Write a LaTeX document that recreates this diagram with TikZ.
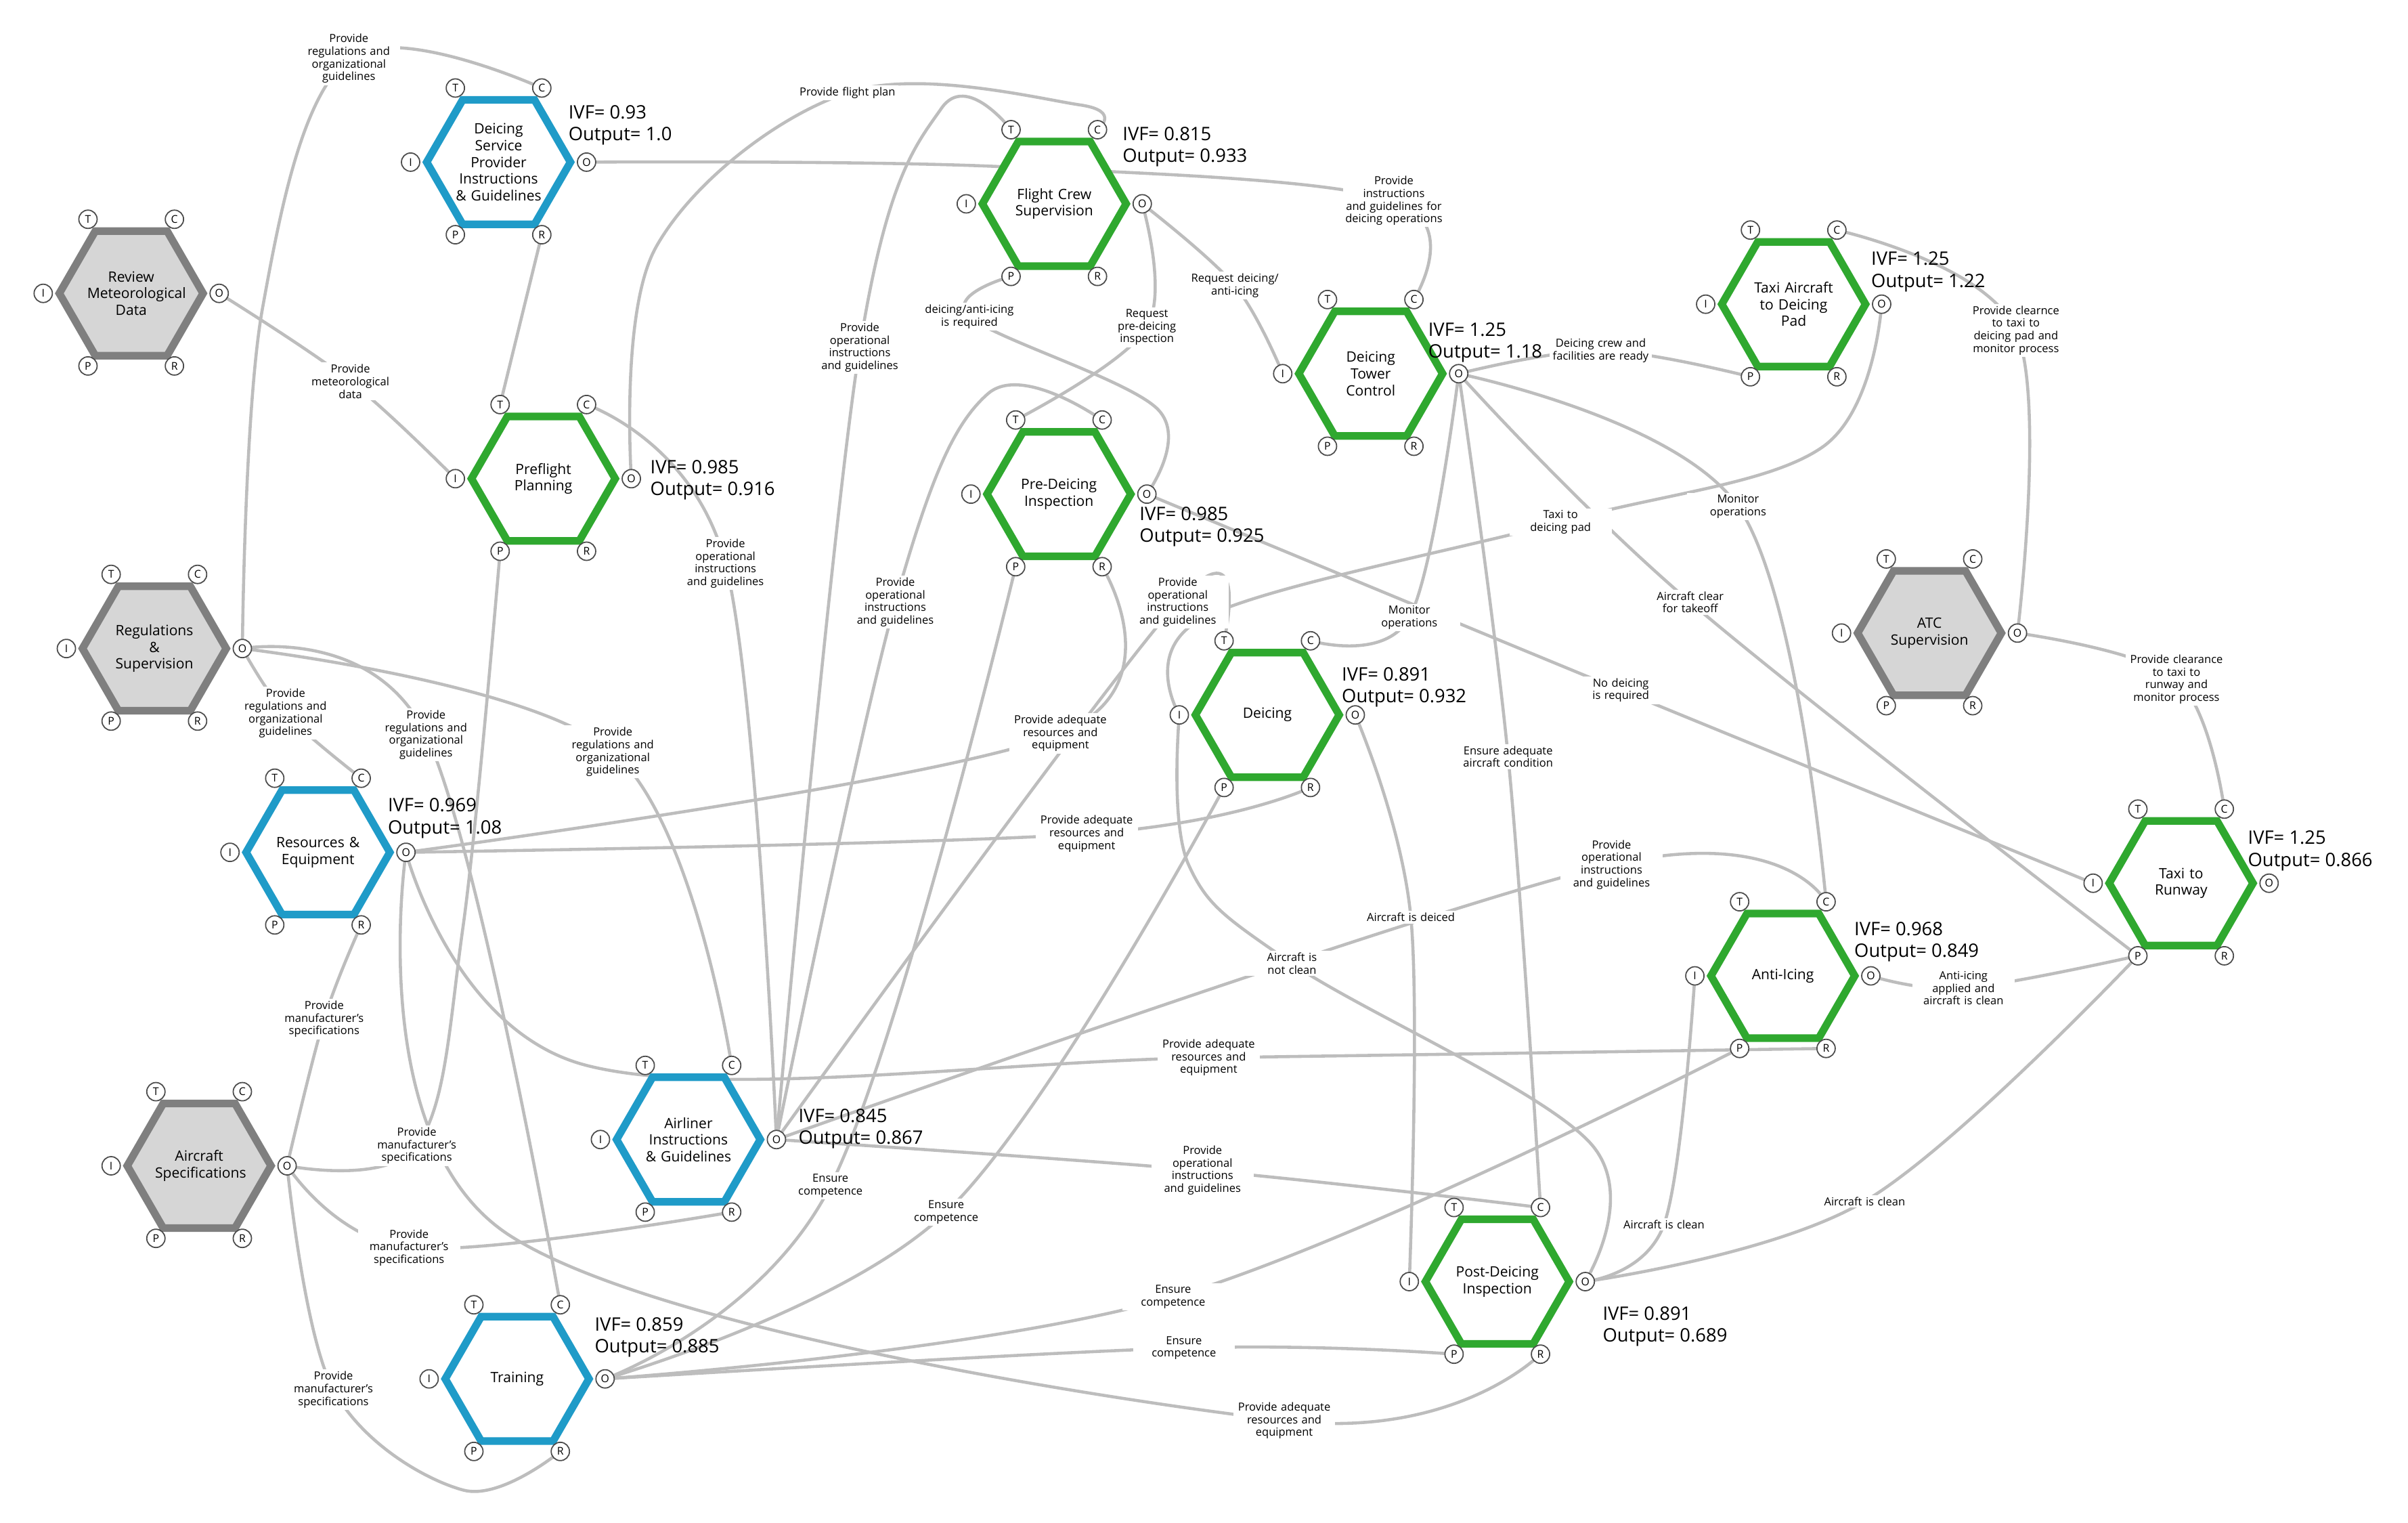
\documentclass[tikz,border=0pt]{standalone}
\usepackage{fontspec}
\setmainfont{Open Sans}
\usetikzlibrary{shapes.geometric, calc, backgrounds}
\definecolor{fgray}{HTML}{7F7F7F}
\definecolor{fgrayfill}{HTML}{D6D6D6}
\definecolor{fblue}{HTML}{1F9BC8}
\definecolor{fgreen}{HTML}{2FA82F}
\definecolor{flowgray}{HTML}{BDBDBD}

% one function: hexagon plus its six aspects
\newcommand{\fram}[5]{%
  \node[hex, #4] (#1) at (#2,#3) {#5};
  \node[asp] (#1-T) at ($(#1)+(-28,-48)$) {T};
  \node[asp] (#1-C) at ($(#1)+(28,-48)$) {C};
  \node[asp] (#1-I) at ($(#1)+(-57,0)$) {I};
  \node[asp] (#1-O) at ($(#1)+(57,0)$) {O};
  \node[asp] (#1-P) at ($(#1)+(-28,47)$) {P};
  \node[asp] (#1-R) at ($(#1)+(28,47)$) {R};
}
\newcommand{\flow}[1]{\draw[flow] plot[smooth, tension=0.6] coordinates {#1};}

\begin{document}
\hyphenpenalty=10000 \exhyphenpenalty=10000
\begin{tikzpicture}[x=0.0228cm, y=-0.0228cm,
  hex/.style={regular polygon, regular polygon sides=6, minimum size=1.98cm, inner sep=0pt, line width=3.2pt, fill=white, align=center, text width=1.3cm, font=\fontsize{6}{7}\selectfont},
  gfun/.style={draw=fgray, fill=fgrayfill},
  bfun/.style={draw=fblue},
  nfun/.style={draw=fgreen},
  asp/.style={circle, draw=black!70, fill=white, line width=0.5pt, minimum size=0.27cm, inner sep=0pt, font=\fontsize{4.5}{5}\selectfont},
  lbl/.style={fill=white, inner sep=0.8pt, align=center, text width=1.45cm, font=\fontsize{4.7}{5.3}\selectfont},
  ivf/.style={anchor=west, align=left, inner sep=0pt, font=\fontsize{7.8}{9.2}\selectfont},
  flow/.style={draw=flowgray, line width=1.3pt}
]
  \useasboundingbox (0,0) rectangle (1560,986);

  % Functions
  \fram{rev}{85}{190}{gfun}{Review Meteorological Data}
  \fram{dsp}{323}{105}{bfun}{Deicing Service Provider Instructions \& Guidelines}
  \fram{pfp}{352}{310}{nfun}{Preflight Planning}
  \fram{reg}{100}{420}{gfun}{Regulations \& Supervision}
  \fram{res}{206}{552}{bfun}{Resources \& Equipment}
  \fram{acs}{129}{755}{gfun}{Aircraft Specifications}
  \fram{air}{446}{738}{bfun}{Airliner Instructions \& Guidelines}
  \fram{trn}{335}{893}{bfun}{Training}
  \fram{fcs}{683}{132}{nfun}{Flight Crew Supervision}
  \fram{pdi}{686}{320}{nfun}{Pre-Deicing Inspection}
  \fram{dtc}{888}{242}{nfun}{Deicing Tower Control}
  \fram{dei}{821}{463}{nfun}{Deicing}
  \fram{tad}{1162}{197}{nfun}{Taxi Aircraft to Deicing Pad}
  \fram{atc}{1250}{410}{gfun}{ATC Supervision}
  \fram{ttr}{1413}{572}{nfun}{Taxi to Runway}
  \fram{ant}{1155}{632}{nfun}{Anti-Icing}
  \fram{pos}{970}{830}{nfun}{Post-Deicing Inspection}

  % IVF values
  \node[ivf] (v-dsp) at (368,81) {IVF= 0.93\\Output= 1.0};
  \node[ivf] (v-pfp) at (421,311) {IVF= 0.985\\Output= 0.916};
  \node[ivf] (v-fcs) at (727,95) {IVF= 0.815\\Output= 0.933};
  \node[ivf] (v-dtc) at (925,222) {IVF= 1.25\\Output= 1.18};
  \node[ivf] (v-tad) at (1212,176) {IVF= 1.25\\Output= 1.22};
  \node[ivf] (v-res) at (251,530) {IVF= 0.969\\Output= 1.08};
  \node[ivf] (v-air) at (517,731) {IVF= 0.845\\Output= 0.867};
  \node[ivf] (v-trn) at (385,866) {IVF= 0.859\\Output= 0.885};
  \node[ivf] (v-pdi) at (738,341) {IVF= 0.985\\Output= 0.925};
  \node[ivf] (v-dei) at (869,445) {IVF= 0.891\\Output= 0.932};
  \node[ivf] (v-ttr) at (1456,551) {IVF= 1.25\\Output= 0.866};
  \node[ivf] (v-ant) at (1201,610) {IVF= 0.968\\Output= 0.849};
  \node[ivf] (v-pos) at (1038,859) {IVF= 0.891\\Output= 0.689};

  % Couplings labels
  \node[lbl] (l1) at (227,247) {Provide meteorological data};
  \node[lbl] (l2) at (226,38) {Provide regulations and organizational guidelines};
  \node[lbl] (l3) at (903,130) {Provide instructions and guidelines for deicing operations};
  \node[lbl] (l4) at (549,60) {Provide flight plan};
  \node[lbl] (l5) at (470,365) {Provide operational instructions and guidelines};
  \node[lbl] (l6) at (557,225) {Provide operational instructions and guidelines};
  \node[lbl] (l7) at (580,390) {Provide operational instructions and guidelines};
  \node[lbl] (l8) at (763,390) {Provide operational instructions and guidelines};
  \node[lbl] (l9) at (1044,560) {Provide operational instructions and guidelines};
  \node[lbl] (l10) at (779,758) {Provide operational instructions and guidelines};
  \node[lbl] (l11) at (185,462) {Provide regulations and organizational guidelines};
  \node[lbl] (l12) at (276,476) {Provide regulations and organizational guidelines};
  \node[lbl] (l13) at (397,487) {Provide regulations and organizational guidelines};
  \node[lbl] (l14) at (687,475) {Provide adequate resources and equipment};
  \node[lbl] (l15) at (704,540) {Provide adequate resources and equipment};
  \node[lbl] (l16) at (783,685) {Provide adequate resources and equipment};
  \node[lbl] (l17) at (832,920) {Provide adequate resources and equipment};
  \node[lbl] (l18) at (210,660) {Provide manufacturer's specifications};
  \node[lbl] (l19) at (270,742) {Provide manufacturer's specifications};
  \node[lbl] (l20) at (265,808) {Provide manufacturer's specifications};
  \node[lbl] (l21) at (216,900) {Provide manufacturer's specifications};
  \node[lbl] (l22) at (538,768) {Ensure competence};
  \node[lbl] (l23) at (613,785) {Ensure competence};
  \node[lbl] (l24) at (760,840) {Ensure competence};
  \node[lbl] (l25) at (767,873) {Ensure competence};
  \node[lbl] (l26) at (743,212) {Request pre-deicing inspection};
  \node[lbl] (l27) at (628,205) {deicing/anti-icing is required};
  \node[lbl] (l28) at (800,185) {Request deicing/ anti-icing};
  \node[lbl] (l29) at (1037,227) {Deicing crew and facilities are ready};
  \node[lbl] (l30) at (1011,338) {Taxi to deicing pad};
  \node[lbl] (l31) at (1306,214) {Provide clearnce to taxi to deicing pad and monitor process};
  \node[lbl] (l32) at (1410,440) {Provide clearance to taxi to runway and monitor process};
  \node[lbl] (l33) at (1126,328) {Monitor operations};
  \node[lbl] (l34) at (1095,390) {Aircraft clear for takeoff};
  \node[lbl] (l35) at (1050,447) {No deicing is required};
  \node[lbl] (l36) at (914,594) {Aircraft is deiced};
  \node[lbl] (l37) at (837,624) {Aircraft is not clean};
  \node[lbl] (l38) at (977,490) {Ensure adequate aircraft condition};
  \node[lbl] (l39) at (1078,793) {Aircraft is clean};
  \node[lbl] (l40) at (1208,778) {Aircraft is clean};
  \node[lbl] (l41) at (1272,640) {Anti-icing applied and aircraft is clean};
  \node[lbl] (l42) at (913,400) {Monitor operations};

  % Couplings
  \begin{pgfonlayer}{background}
    \flow{(rev-O) (l1) (pfp-I)}
    \flow{(reg-O) (170,200) (l2) (dsp-C)}
    \flow{(dsp-O) (650,108) (l3) (dtc-C)}
    \flow{(dsp-R) (pfp-T)}
    \flow{(pfp-O) (425,160) (l4) (700,68) (fcs-C)}
    \flow{(air-O) (l5) (pfp-C)}
    \flow{(air-O) (l6) (610,70) (fcs-T)}
    \flow{(air-O) (l7) (640,255) (pdi-C)}
    \flow{(air-O) (l8) (dei-T)}
    \flow{(air-O) (l9) (ant-C)}
    \flow{(air-O) (l10) (pos-C)}
    \flow{(reg-O) (l11) (res-C)}
    \flow{(reg-O) (l12) (trn-C)}
    \flow{(reg-O) (l13) (air-C)}
    \flow{(res-O) (l14) (pdi-R)}
    \flow{(res-O) (l15) (dei-R)}
    \flow{(res-O) (380,690) (l16) (ant-R)}
    \flow{(res-O) (330,800) (l17) (pos-R)}
    \flow{(acs-O) (l18) (res-R)}
    \flow{(acs-O) (l19) (300,600) (pfp-P)}
    \flow{(acs-O) (l20) (air-R)}
    \flow{(acs-O) (l21) (300,965) (trn-R)}
    \flow{(trn-O) (l22) (pdi-P)}
    \flow{(trn-O) (l23) (dei-P)}
    \flow{(trn-O) (l24) (ant-P)}
    \flow{(trn-O) (l25) (pos-P)}
    \flow{(fcs-O) (l26) (pdi-T)}
    \flow{(pdi-O) (750,265) (l27) (fcs-P)}
    \flow{(fcs-O) (l28) (dtc-I)}
    \flow{(dtc-O) (l29) (tad-P)}
    \flow{(tad-O) (1180,290) (l30) (780,400) (dei-I)}
    \flow{(atc-O) (l31) (tad-C)}
    \flow{(atc-O) (l32) (ttr-C)}
    \flow{(dtc-O) (l33) (ant-C)}
    \flow{(dtc-O) (l34) (ttr-P)}
    \flow{(pdi-O) (l35) (ttr-I)}
    \flow{(dei-O) (l36) (pos-I)}
    \flow{(pos-O) (1030,740) (l37) (770,560) (dei-I)}
    \flow{(dtc-O) (l38) (pos-C)}
    \flow{(pos-O) (l39) (ant-I)}
    \flow{(pos-O) (l40) (ttr-P)}
    \flow{(ant-O) (l41) (ttr-P)}
    \flow{(dtc-O) (l42) (dei-C)}
  \end{pgfonlayer}
\end{tikzpicture}
\end{document}
